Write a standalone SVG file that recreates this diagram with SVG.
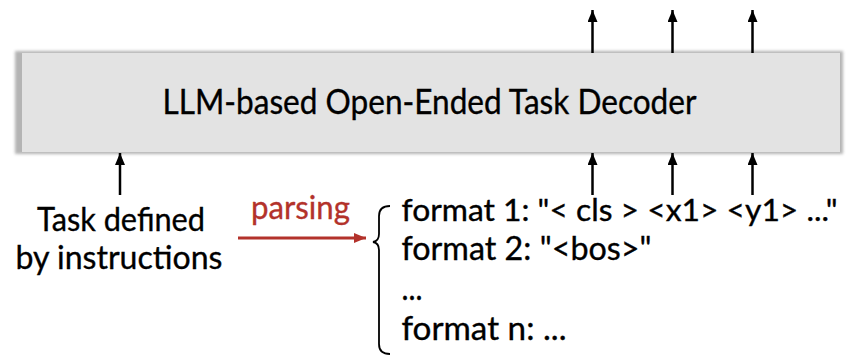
<svg xmlns="http://www.w3.org/2000/svg" width="847" height="359" viewBox="0 0 847 359">
  <defs>
    <filter id="soft" x="-5%" y="-20%" width="110%" height="140%">
      <feGaussianBlur stdDeviation="1.5"/>
    </filter>
    <marker id="headUp" viewBox="0 0 10 12" refX="5" refY="0" markerWidth="10" markerHeight="12" markerUnits="userSpaceOnUse" orient="0">
      <path d="M5,0 L10,12 L0,12 Z" fill="#000"/>
    </marker>
    <marker id="headRed" viewBox="0 0 12 10" refX="12" refY="5" markerWidth="12" markerHeight="10" markerUnits="userSpaceOnUse" orient="0">
      <path d="M0,0 L12,5 L0,10 Z" fill="#b3322b"/>
    </marker>
  </defs>
  <style>
    text { font-family: Lato, "Open Sans", "Liberation Sans", sans-serif; fill: #000; stroke: #000; stroke-width: 0.35; }
    .lbl { font-size: 33px; }
    .long { font-size: 30px; }
    .title { font-size: 34px; }
    .red { fill: #b3322b; stroke: #b3322b; }
    .up { stroke: #000; stroke-width: 2.5; fill: none; marker-start: url(#headUp); }
  </style>

  <!-- decoder block -->
  <g id="decoder">
    <rect x="15" y="51" width="828" height="103" fill="#b4b4b4" filter="url(#soft)"/>
    <rect x="22" y="53" width="818" height="99" fill="#e3e3e3"/>
    <text class="title" x="162.5" y="114" textLength="534" lengthAdjust="spacingAndGlyphs">LLM-based Open-Ended Task Decoder</text>
  </g>

  <!-- instruction input -->
  <g id="task">
    <text class="lbl" x="121" y="231" text-anchor="middle" textLength="168" lengthAdjust="spacingAndGlyphs">Task defined</text>
    <text class="lbl" x="119" y="269" text-anchor="middle" textLength="207" lengthAdjust="spacingAndGlyphs">by instructions</text>
  </g>

  <!-- parsed output formats -->
  <g id="formats">
    <path d="M390,206 Q379,206 379,216 L379,234 Q379,241 373,242 Q379,243 379,250 L379,344 Q379,354 390,354" fill="none" stroke="#000" stroke-width="1.8"/>
    <text class="long" x="401.5" y="221" textLength="436" lengthAdjust="spacingAndGlyphs">format 1: "&lt; cls &gt; &lt;x1&gt; &lt;y1&gt; ..."</text>
    <text class="lbl" x="401.5" y="259.5" textLength="250" lengthAdjust="spacingAndGlyphs">format 2: "&lt;bos&gt;"</text>
    <text class="lbl" x="401.5" y="300" textLength="21" lengthAdjust="spacingAndGlyphs">...</text>
    <text class="lbl" x="401.5" y="340" textLength="165" lengthAdjust="spacingAndGlyphs">format n: ...</text>
  </g>

  <!-- connectors -->
  <g id="connectors">
    <line class="up" x1="120" y1="153" x2="120" y2="195"/>
    <line class="up" x1="592.5" y1="153" x2="592.5" y2="195"/>
    <line class="up" x1="672.5" y1="153" x2="672.5" y2="195"/>
    <line class="up" x1="752.5" y1="153" x2="752.5" y2="195"/>
    <line class="up" x1="592.5" y1="10" x2="592.5" y2="53"/>
    <line class="up" x1="672.5" y1="10" x2="672.5" y2="53"/>
    <line class="up" x1="752.5" y1="10" x2="752.5" y2="53"/>
    <line x1="238" y1="238" x2="366" y2="238" stroke="#b3322b" stroke-width="3" marker-end="url(#headRed)"/>
    <text class="lbl red" x="251" y="219" textLength="99" lengthAdjust="spacingAndGlyphs">parsing</text>
  </g>
</svg>
